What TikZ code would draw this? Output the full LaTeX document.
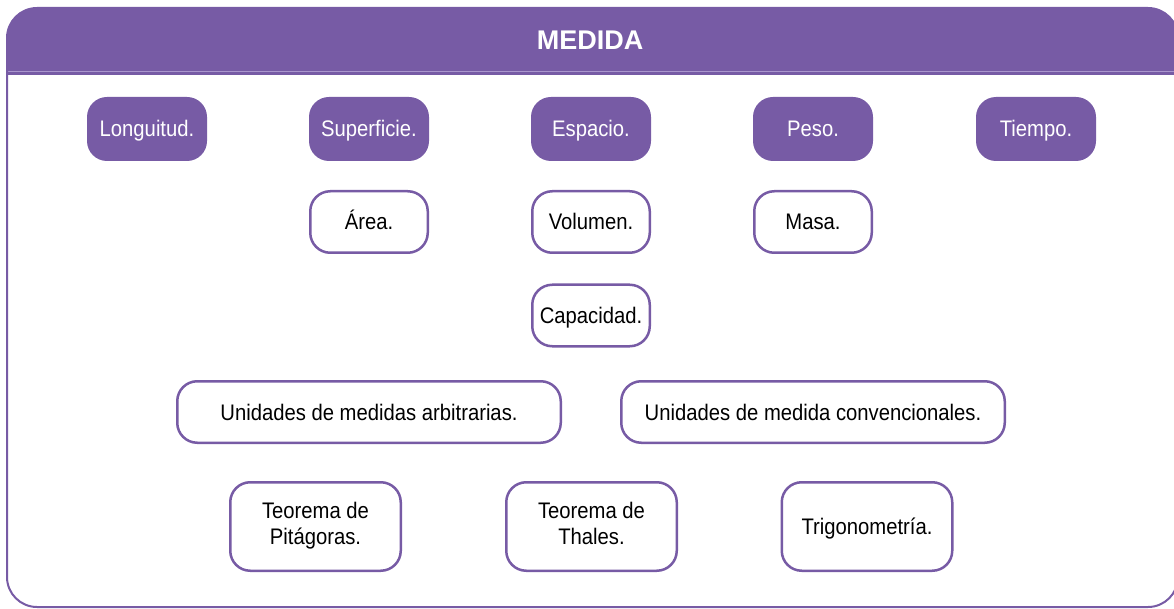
\documentclass[tikz,border=0pt]{standalone}
\usepackage{fontspec}
\setmainfont{Liberation Sans}
\newfontfamily\narrowsf{Liberation Sans}[FakeStretch=0.9]
\definecolor{medidapurple}{RGB}{119,91,165}
\definecolor{medidaline}{RGB}{170,150,205}

\tikzset{
  boxtext/.style={inner sep=0pt, font=\narrowsf\fontsize{22.5}{26}\selectfont},
  topic/.style={boxtext, rounded corners=20pt, fill=medidapurple, text=white,
    minimum width=120pt, minimum height=64pt, text height=21pt, text depth=5pt},
  outlined/.style={boxtext, rounded corners=20pt, draw=medidapurple, line width=2.5pt,
    fill=white, text=black, minimum width=117.5pt, minimum height=61.5pt},
  subtopic/.style={outlined, text height=21pt, text depth=5pt},
  unitbox/.style={subtopic, minimum width=383.5pt},
  theorembox/.style={outlined, align=center, minimum width=170.5pt, minimum height=88.5pt}
}

\begin{document}
\begin{tikzpicture}[x=1pt,y=-1pt]
\clip (0,0) rectangle (1174,609);

% marco y cabecera
\fill [medidapurple] (7,75) {[rounded corners=30pt] -- (7,8) -- (1178,8)} -- (1178,75) -- cycle;
\draw [medidaline, line width=1pt] (8,71.5) -- (1177,71.5);
\draw [medidapurple, line width=2pt, rounded corners=30pt] (7,8) rectangle (1178,607);
\node [text=white, font=\bfseries\fontsize{27}{30}\selectfont] (title) at (590,40) {MEDIDA};

% magnitudes
\node [topic] (longitud) at (147,129) {Longuitud.};
\node [topic] (superficie) at (369,129) {Superficie.};
\node [topic] (espacio) at (591,129) {Espacio.};
\node [topic] (peso) at (813,129) {Peso.};
\node [topic] (tiempo) at (1036,129) {Tiempo.};

\node [subtopic] (area) at (369,222) {Área.};
\node [subtopic] (volumen) at (591,222) {Volumen.};
\node [subtopic] (masa) at (813,222) {Masa.};

\node [subtopic] (capacidad) at (591,315.5) {Capacidad.};

% unidades
\node [unitbox] (arbitrarias) at (369,412) {Unidades de medidas arbitrarias.};
\node [unitbox] (convencionales) at (813,412) {Unidades de medida convencionales.};

% teoremas
\node [theorembox] (pitagoras) at (315.5,526.5) {\strut Teorema de\\Pitágoras.\strut};
\node [theorembox] (thales) at (591.5,526.5) {\strut Teorema de\\Thales.\strut};
\node [theorembox, text height=21pt, text depth=5pt] (trigonometria) at (867,526.5) {Trigonometría.};

\end{tikzpicture}
\end{document}
